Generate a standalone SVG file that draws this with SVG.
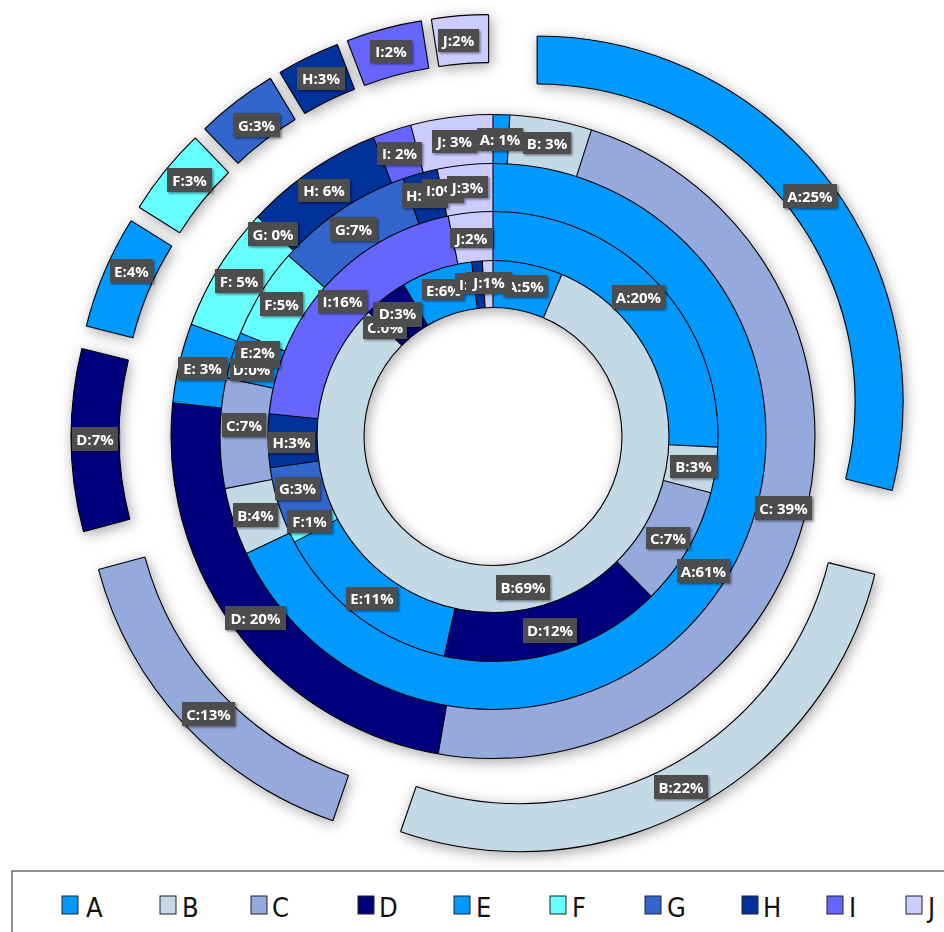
<svg xmlns="http://www.w3.org/2000/svg" width="944" height="932" viewBox="0 0 944 932">
<defs>
<filter id="sh" x="-15%" y="-15%" width="130%" height="130%"><feDropShadow dx="2" dy="3" stdDeviation="7" flood-color="#000" flood-opacity="0.35"/></filter>
<filter id="lsh" x="-20%" y="-20%" width="140%" height="150%"><feDropShadow dx="1.5" dy="1.5" stdDeviation="1" flood-color="#000" flood-opacity="0.45"/></filter>
</defs>
<style>
.s{fill:none}
.r1{stroke-width:47}.r2{stroke-width:49}.r3{stroke-width:48}.r4{stroke-width:49}.r5{stroke-width:48}
.cA{stroke:#0099ff}.cB{stroke:#c4d9e6}.cC{stroke:#95a9dd}.cD{stroke:#00007d}.cE{stroke:#0099ff}
.cF{stroke:#66ffff}.cG{stroke:#3366cc}.cH{stroke:#003399}.cI{stroke:#6666ff}.cJ{stroke:#ccccff}
.ol{fill:none;stroke:#000;stroke-width:1.1}
.rl line{stroke:#000;stroke-width:1.1}
.lb rect{fill:#4d4d4d}
.lb text{fill:#fff;font-family:"Open Sans","Liberation Sans",sans-serif;font-weight:bold;font-size:15px;text-anchor:middle}
.lb text.st{text-anchor:start}
.lg rect{stroke:#222;stroke-width:1}
.lg text{font-family:"Liberation Sans Narrow","DejaVu Sans Condensed","Liberation Sans",sans-serif;font-size:27px;fill:#111}
</style>
<rect width="944" height="932" fill="#fff"/>
<g id="chart" filter="url(#sh)">
<g id="inner-rings" transform="translate(493 436.5)">
<g id="ring1" transform="rotate(-90)">
<circle class="s r1 cA" r="152.5" pathLength="360" stroke-dasharray="23 360" stroke-dashoffset="0"/>
<circle class="s r1 cB" r="152.5" pathLength="360" stroke-dasharray="292 360" stroke-dashoffset="-23"/>
<circle class="s r1 cD" r="152.5" pathLength="360" stroke-dasharray="14.5 360" stroke-dashoffset="-315"/>
<circle class="s r1 cE" r="152.5" pathLength="360" stroke-dasharray="23.5 360" stroke-dashoffset="-329.5"/>
<circle class="s r1 cH" r="152.5" pathLength="360" stroke-dasharray="3.5 360" stroke-dashoffset="-353"/>
<circle class="s r1 cJ" r="152.5" pathLength="360" stroke-dasharray="3.5 360" stroke-dashoffset="-356.5"/>
</g>
<g id="ring2" transform="rotate(-90)">
<circle class="s r2 cA" r="200.5" pathLength="360" stroke-dasharray="92.7 360" stroke-dashoffset="0"/>
<circle class="s r2 cB" r="200.5" pathLength="360" stroke-dasharray="11.8 360" stroke-dashoffset="-92.7"/>
<circle class="s r2 cC" r="200.5" pathLength="360" stroke-dasharray="30.8 360" stroke-dashoffset="-104.5"/>
<circle class="s r2 cD" r="200.5" pathLength="360" stroke-dasharray="57.2 360" stroke-dashoffset="-135.3"/>
<circle class="s r2 cE" r="200.5" pathLength="360" stroke-dasharray="49.5 360" stroke-dashoffset="-192.5"/>
<circle class="s r2 cF" r="200.5" pathLength="360" stroke-dasharray="3.5 360" stroke-dashoffset="-242"/>
<circle class="s r2 cG" r="200.5" pathLength="360" stroke-dasharray="16.5 360" stroke-dashoffset="-245.5"/>
<circle class="s r2 cH" r="200.5" pathLength="360" stroke-dasharray="13.8 360" stroke-dashoffset="-262"/>
<circle class="s r2 cI" r="200.5" pathLength="360" stroke-dasharray="72.7 360" stroke-dashoffset="-275.8"/>
<circle class="s r2 cJ" r="200.5" pathLength="360" stroke-dasharray="11.5 360" stroke-dashoffset="-348.5"/>
</g>
<g id="ring3" transform="rotate(-90)">
<circle class="s r3 cA" r="249" pathLength="360" stroke-dasharray="244.6 360" stroke-dashoffset="0"/>
<circle class="s r3 cB" r="249" pathLength="360" stroke-dasharray="14.4 360" stroke-dashoffset="-244.6"/>
<circle class="s r3 cC" r="249" pathLength="360" stroke-dasharray="23.4 360" stroke-dashoffset="-259"/>
<circle class="s r3 cE" r="249" pathLength="360" stroke-dasharray="9.9 360" stroke-dashoffset="-282.4"/>
<circle class="s r3 cF" r="249" pathLength="360" stroke-dasharray="19.2 360" stroke-dashoffset="-292.3"/>
<circle class="s r3 cG" r="249" pathLength="360" stroke-dasharray="29.3 360" stroke-dashoffset="-311.5"/>
<circle class="s r3 cH" r="249" pathLength="360" stroke-dasharray="7.4 360" stroke-dashoffset="-340.8"/>
<circle class="s r3 cJ" r="249" pathLength="360" stroke-dasharray="11.8 360" stroke-dashoffset="-348.2"/>
</g>
<g id="ring4" transform="rotate(-90)">
<circle class="s r4 cA" r="297.5" pathLength="360" stroke-dasharray="3 360" stroke-dashoffset="0"/>
<circle class="s r4 cB" r="297.5" pathLength="360" stroke-dasharray="14.8 360" stroke-dashoffset="-3"/>
<circle class="s r4 cC" r="297.5" pathLength="360" stroke-dasharray="172 360" stroke-dashoffset="-17.8"/>
<circle class="s r4 cD" r="297.5" pathLength="360" stroke-dasharray="86.2 360" stroke-dashoffset="-189.8"/>
<circle class="s r4 cE" r="297.5" pathLength="360" stroke-dasharray="14.4 360" stroke-dashoffset="-276"/>
<circle class="s r4 cF" r="297.5" pathLength="360" stroke-dasharray="22.6 360" stroke-dashoffset="-290.4"/>
<circle class="s r4 cH" r="297.5" pathLength="360" stroke-dasharray="25.2 360" stroke-dashoffset="-313"/>
<circle class="s r4 cI" r="297.5" pathLength="360" stroke-dasharray="7 360" stroke-dashoffset="-338.2"/>
<circle class="s r4 cJ" r="297.5" pathLength="360" stroke-dasharray="14.8 360" stroke-dashoffset="-345.2"/>
</g>
<g id="ring-outlines">
<circle class="ol" r="129"/><circle class="ol" r="176"/><circle class="ol" r="225"/><circle class="ol" r="273"/><circle class="ol" r="322"/>
</g>
<g id="ring-dividers" class="rl">
<line y1="-129" y2="-322"/>
<line y1="-129" y2="-176" transform="rotate(23)"/>
<line y1="-129" y2="-176" transform="rotate(315)"/>
<line y1="-129" y2="-176" transform="rotate(329.5)"/>
<line y1="-129" y2="-176" transform="rotate(353)"/>
<line y1="-129" y2="-176" transform="rotate(356.5)"/>
<line y1="-176" y2="-225" transform="rotate(92.7)"/>
<line y1="-176" y2="-225" transform="rotate(104.5)"/>
<line y1="-176" y2="-225" transform="rotate(135.3)"/>
<line y1="-176" y2="-225" transform="rotate(192.5)"/>
<line y1="-176" y2="-225" transform="rotate(242)"/>
<line y1="-176" y2="-225" transform="rotate(245.5)"/>
<line y1="-176" y2="-225" transform="rotate(262)"/>
<line y1="-176" y2="-225" transform="rotate(275.8)"/>
<line y1="-176" y2="-225" transform="rotate(348.5)"/>
<line y1="-225" y2="-273" transform="rotate(244.6)"/>
<line y1="-225" y2="-273" transform="rotate(259)"/>
<line y1="-225" y2="-273" transform="rotate(282.4)"/>
<line y1="-225" y2="-273" transform="rotate(292.3)"/>
<line y1="-225" y2="-273" transform="rotate(311.5)"/>
<line y1="-225" y2="-273" transform="rotate(340.8)"/>
<line y1="-225" y2="-273" transform="rotate(348.2)"/>
<line y1="-273" y2="-322" transform="rotate(3)"/>
<line y1="-273" y2="-322" transform="rotate(17.8)"/>
<line y1="-273" y2="-322" transform="rotate(189.8)"/>
<line y1="-273" y2="-322" transform="rotate(276)"/>
<line y1="-273" y2="-322" transform="rotate(290.4)"/>
<line y1="-273" y2="-322" transform="rotate(313)"/>
<line y1="-273" y2="-322" transform="rotate(338.2)"/>
<line y1="-273" y2="-322" transform="rotate(345.2)"/>
</g>
</g>
<g id="outer-ring">
<g id="outer-A" class="rl" transform="translate(493 436.5) rotate(52) translate(0 -56) rotate(-52)">
<g transform="rotate(-90)"><circle class="s r5 cA" r="342" pathLength="360" stroke-dasharray="104 360" stroke-dashoffset="0"/><circle class="ol" r="318" pathLength="360" stroke-dasharray="104 360" stroke-dashoffset="0"/><circle class="ol" r="366" pathLength="360" stroke-dasharray="104 360" stroke-dashoffset="0"/></g>
<line y1="-318" y2="-366"/><line y1="-318" y2="-366" transform="rotate(104)"/>
</g>
<g id="outer-B" class="rl" transform="translate(493 436.5) rotate(151.5) translate(0 -56) rotate(-151.5)">
<g transform="rotate(-90)"><circle class="s r5 cB" r="342" pathLength="360" stroke-dasharray="95 360" stroke-dashoffset="-104"/><circle class="ol" r="318" pathLength="360" stroke-dasharray="95 360" stroke-dashoffset="-104"/><circle class="ol" r="366" pathLength="360" stroke-dasharray="95 360" stroke-dashoffset="-104"/></g>
<line y1="-318" y2="-366" transform="rotate(104)"/><line y1="-318" y2="-366" transform="rotate(199)"/>
</g>
<g id="outer-C" class="rl" transform="translate(493 436.5) rotate(227) translate(0 -56) rotate(-227)">
<g transform="rotate(-90)"><circle class="s r5 cC" r="342" pathLength="360" stroke-dasharray="56 360" stroke-dashoffset="-199"/><circle class="ol" r="318" pathLength="360" stroke-dasharray="56 360" stroke-dashoffset="-199"/><circle class="ol" r="366" pathLength="360" stroke-dasharray="56 360" stroke-dashoffset="-199"/></g>
<line y1="-318" y2="-366" transform="rotate(199)"/><line y1="-318" y2="-366" transform="rotate(255)"/>
</g>
<g id="outer-D" class="rl" transform="translate(493 436.5) rotate(269.5) translate(0 -56) rotate(-269.5)">
<g transform="rotate(-90)"><circle class="s r5 cD" r="342" pathLength="360" stroke-dasharray="29 360" stroke-dashoffset="-255"/><circle class="ol" r="318" pathLength="360" stroke-dasharray="29 360" stroke-dashoffset="-255"/><circle class="ol" r="366" pathLength="360" stroke-dasharray="29 360" stroke-dashoffset="-255"/></g>
<line y1="-318" y2="-366" transform="rotate(255)"/><line y1="-318" y2="-366" transform="rotate(284)"/>
</g>
<g id="outer-E" class="rl" transform="translate(493 436.5) rotate(293) translate(0 -56) rotate(-293)">
<g transform="rotate(-90)"><circle class="s r5 cE" r="342" pathLength="360" stroke-dasharray="18 360" stroke-dashoffset="-284"/><circle class="ol" r="318" pathLength="360" stroke-dasharray="18 360" stroke-dashoffset="-284"/><circle class="ol" r="366" pathLength="360" stroke-dasharray="18 360" stroke-dashoffset="-284"/></g>
<line y1="-318" y2="-366" transform="rotate(284)"/><line y1="-318" y2="-366" transform="rotate(302)"/>
</g>
<g id="outer-F" class="rl" transform="translate(493 436.5) rotate(309) translate(0 -56) rotate(-309)">
<g transform="rotate(-90)"><circle class="s r5 cF" r="342" pathLength="360" stroke-dasharray="14 360" stroke-dashoffset="-302"/><circle class="ol" r="318" pathLength="360" stroke-dasharray="14 360" stroke-dashoffset="-302"/><circle class="ol" r="366" pathLength="360" stroke-dasharray="14 360" stroke-dashoffset="-302"/></g>
<line y1="-318" y2="-366" transform="rotate(302)"/><line y1="-318" y2="-366" transform="rotate(316)"/>
</g>
<g id="outer-G" class="rl" transform="translate(493 436.5) rotate(322.5) translate(0 -56) rotate(-322.5)">
<g transform="rotate(-90)"><circle class="s r5 cG" r="342" pathLength="360" stroke-dasharray="13 360" stroke-dashoffset="-316"/><circle class="ol" r="318" pathLength="360" stroke-dasharray="13 360" stroke-dashoffset="-316"/><circle class="ol" r="366" pathLength="360" stroke-dasharray="13 360" stroke-dashoffset="-316"/></g>
<line y1="-318" y2="-366" transform="rotate(316)"/><line y1="-318" y2="-366" transform="rotate(329)"/>
</g>
<g id="outer-H" class="rl" transform="translate(493 436.5) rotate(334) translate(0 -56) rotate(-334)">
<g transform="rotate(-90)"><circle class="s r5 cH" r="342" pathLength="360" stroke-dasharray="10 360" stroke-dashoffset="-329"/><circle class="ol" r="318" pathLength="360" stroke-dasharray="10 360" stroke-dashoffset="-329"/><circle class="ol" r="366" pathLength="360" stroke-dasharray="10 360" stroke-dashoffset="-329"/></g>
<line y1="-318" y2="-366" transform="rotate(329)"/><line y1="-318" y2="-366" transform="rotate(339)"/>
</g>
<g id="outer-I" class="rl" transform="translate(493 436.5) rotate(345) translate(0 -56) rotate(-345)">
<g transform="rotate(-90)"><circle class="s r5 cI" r="342" pathLength="360" stroke-dasharray="12 360" stroke-dashoffset="-339"/><circle class="ol" r="318" pathLength="360" stroke-dasharray="12 360" stroke-dashoffset="-339"/><circle class="ol" r="366" pathLength="360" stroke-dasharray="12 360" stroke-dashoffset="-339"/></g>
<line y1="-318" y2="-366" transform="rotate(339)"/><line y1="-318" y2="-366" transform="rotate(351)"/>
</g>
<g id="outer-J" class="rl" transform="translate(493 436.5) rotate(355.5) translate(0 -56) rotate(-355.5)">
<g transform="rotate(-90)"><circle class="s r5 cJ" r="342" pathLength="360" stroke-dasharray="9 360" stroke-dashoffset="-351"/><circle class="ol" r="318" pathLength="360" stroke-dasharray="9 360" stroke-dashoffset="-351"/><circle class="ol" r="366" pathLength="360" stroke-dasharray="9 360" stroke-dashoffset="-351"/></g>
<line y1="-318" y2="-366" transform="rotate(351)"/><line y1="-318" y2="-366"/>
</g>
</g>
</g>
<g id="labels" class="lb" filter="url(#lsh)">
<rect x="783" y="184" width="54" height="24"/><text x="810" y="201.5">A:25%</text>
<rect x="654" y="775" width="54" height="24"/><text x="681" y="792.5">B:22%</text>
<rect x="182" y="702" width="53" height="24"/><text x="208.5" y="719.5">C:13%</text>
<rect x="72" y="427" width="46" height="24"/><text x="95" y="444.5">D:7%</text>
<rect x="110" y="259" width="43" height="24"/><text x="131.5" y="276.5">E:4%</text>
<rect x="167" y="168" width="45" height="24"/><text x="189.5" y="185.5">F:3%</text>
<rect x="233" y="113" width="47" height="24"/><text x="256.5" y="130.5">G:3%</text>
<rect x="297" y="67" width="48" height="23"/><text x="321" y="84">H:3%</text>
<rect x="370" y="40" width="42" height="23"/><text x="391" y="57">I:2%</text>
<rect x="438" y="29" width="41" height="23"/><text x="458.5" y="46">J:2%</text>
<rect x="432" y="130" width="45" height="23"/><text x="454.5" y="147">J: 3%</text>
<rect x="477" y="128" width="46" height="23"/><text x="500" y="145">A: 1%</text>
<rect x="523" y="132" width="48" height="22"/><text x="547" y="148.5">B: 3%</text>
<rect x="755" y="496" width="57" height="24"/><text x="783.5" y="513.5">C: 39%</text>
<rect x="225" y="606" width="61" height="24"/><text x="255.5" y="623.5">D: 20%</text>
<rect x="178" y="357" width="49" height="23"/><text x="202.5" y="374">E: 3%</text>
<rect x="215" y="269" width="48" height="24"/><text x="239" y="286.5">F: 5%</text>
<rect x="248" y="222" width="50" height="24"/><text x="273" y="239.5">G: 0%</text>
<rect x="298" y="179" width="52" height="23"/><text x="324" y="196">H: 6%</text>
<rect x="377" y="142" width="45" height="23"/><text x="399.5" y="159">I: 2%</text>
<rect x="677" y="559" width="53" height="24"/><text x="703.5" y="576.5">A:61%</text>
<rect x="233" y="503" width="45" height="24"/><text x="255.5" y="520.5">B:4%</text>
<rect x="222" y="413" width="44" height="24"/><text x="244" y="430.5">C:7%</text>
<rect x="230" y="358" width="43" height="23"/><text x="251.5" y="375">D:0%</text>
<rect x="235" y="341" width="45" height="27"/><text x="257.5" y="358">E:2%</text>
<rect x="260" y="292" width="43" height="24"/><text x="281.5" y="309.5">F:5%</text>
<rect x="330" y="217" width="47" height="24"/><text x="353.5" y="234.5">G:7%</text>
<rect x="402" y="183" width="46" height="25"/><text class="st" x="406" y="201">H:2%</text>
<rect x="422" y="179" width="42" height="24"/><text class="st" x="426" y="196">I:0%</text>
<rect x="447" y="176" width="41" height="22"/><text x="467.5" y="192.5">J:3%</text>
<rect x="612" y="285" width="53" height="24"/><text x="638.5" y="302.5">A:20%</text>
<rect x="670" y="455" width="47" height="23"/><text x="693.5" y="472">B:3%</text>
<rect x="646" y="527" width="44" height="22"/><text x="668" y="543.5">C:7%</text>
<rect x="523" y="618" width="54" height="25"/><text x="550" y="636">D:12%</text>
<rect x="346" y="587" width="52" height="23"/><text x="372" y="604">E:11%</text>
<rect x="287" y="510" width="45" height="23"/><text x="309.5" y="527">F:1%</text>
<rect x="275" y="477" width="45" height="23"/><text x="297.5" y="494">G:3%</text>
<rect x="268" y="432" width="47" height="21"/><text x="291.5" y="448">H:3%</text>
<rect x="318" y="290" width="49" height="23"/><text x="342.5" y="307">I:16%</text>
<rect x="450" y="228" width="43" height="20"/><text x="471.5" y="243.5">J:2%</text>
<rect x="496" y="575" width="54" height="25"/><text x="523" y="593">B:69%</text>
<rect x="363" y="316" width="44" height="23"/><text x="385" y="332.5">C:0%</text>
<rect x="373" y="302" width="49" height="25"/><text x="397.5" y="318.5">D:3%</text>
<rect x="422" y="279" width="42" height="21"/><text class="st" x="426" y="295.5">E:6%</text>
<rect x="455" y="273" width="40" height="21"/><text class="st" x="459" y="289.5">I:0%</text>
<rect x="503" y="275" width="44" height="22"/><text class="st" x="507" y="291.5">A:5%</text>
<rect x="466" y="272" width="46" height="21"/><text x="489" y="288">J:1%</text>
</g>
<g id="legend" class="lg">
<rect x="12" y="871" width="950" height="80" fill="#fff" stroke="#444" stroke-width="1.5"/>
<rect x="62" y="896" width="16" height="18" fill="#0099ff"/><text x="86" y="917">A</text>
<rect x="160" y="896" width="16" height="18" fill="#c4d9e6"/><text x="182" y="917">B</text>
<rect x="251" y="896" width="16" height="18" fill="#95a9dd"/><text x="272" y="917">C</text>
<rect x="358" y="896" width="16" height="18" fill="#00007d"/><text x="379" y="917">D</text>
<rect x="454" y="896" width="16" height="18" fill="#0099ff"/><text x="476" y="917">E</text>
<rect x="550" y="896" width="16" height="18" fill="#66ffff"/><text x="572" y="917">F</text>
<rect x="645" y="896" width="16" height="18" fill="#3366cc"/><text x="667" y="917">G</text>
<rect x="742" y="896" width="16" height="18" fill="#003399"/><text x="763" y="917">H</text>
<rect x="827" y="896" width="16" height="18" fill="#6666ff"/><text x="849" y="917">I</text>
<rect x="906" y="896" width="16" height="18" fill="#ccccff"/><text x="928" y="917">J</text>
</g>
</svg>
